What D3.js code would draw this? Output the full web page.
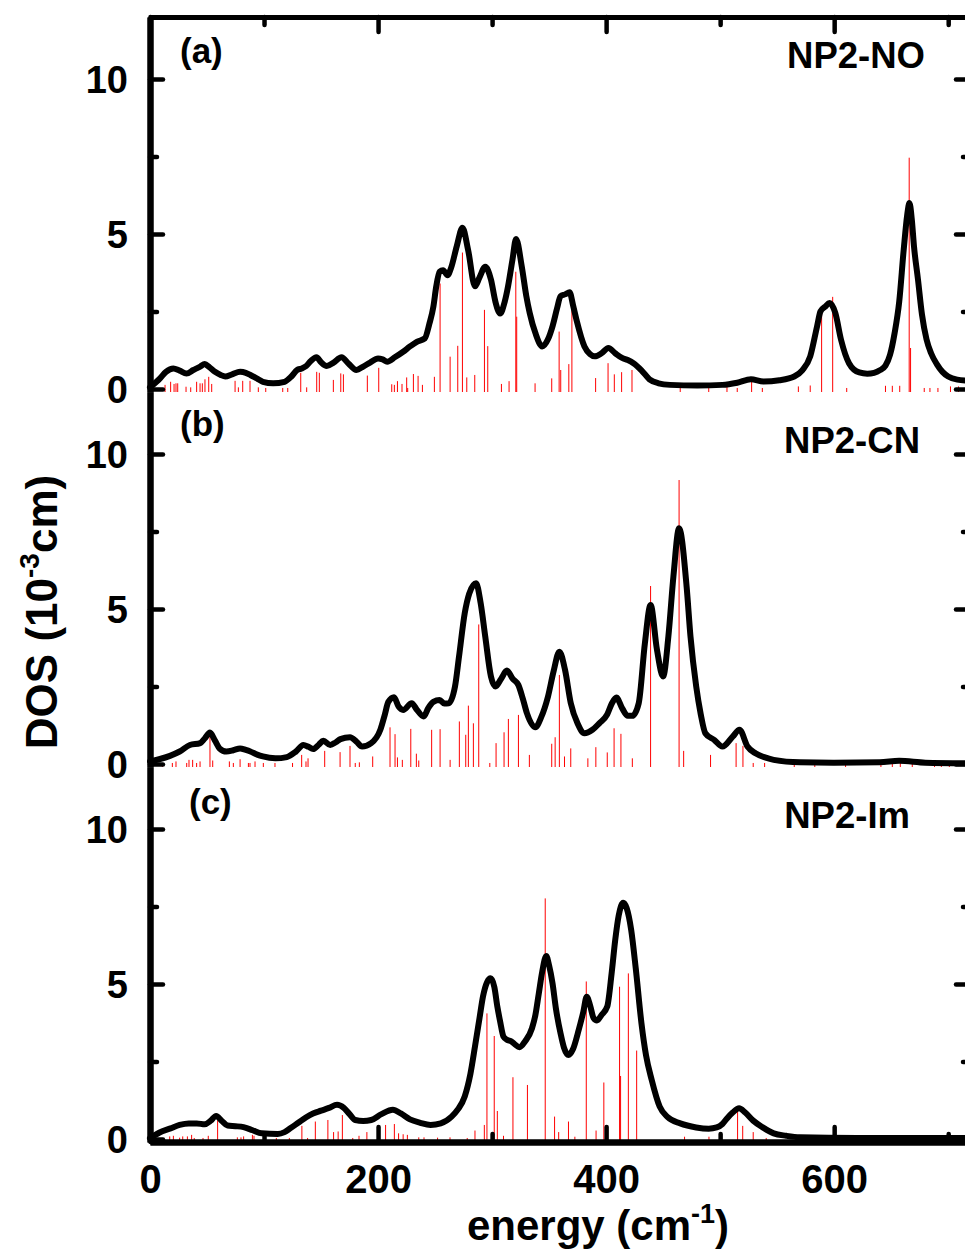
<!DOCTYPE html>
<html><head><meta charset="utf-8">
<script src="https://cdn.jsdelivr.net/npm/d3@7"></script>
<style>
body{margin:0;background:#fff}
text{font-family:"Liberation Sans",Arial,sans-serif;font-weight:bold;fill:#000}
</style>
</head><body>
<svg id="c" width="965" height="1253"></svg>
<script>
// ---------------- data ----------------
const panelLabels = ["(a)", "(b)", "(c)"];
const panelNames = ["NP2-NO", "NP2-CN", "NP2-Im"];
const xMajorTicks = [0, 200, 400, 600];
const xMinorTicks = [100, 300, 500, 700];
const yMajorTicks = [0, 5, 10];
const yMinorTicks = [2.5, 7.5];
const xTitle = "energy (cm";
const xTitleSup = "-1";
const yTitle = "DOS (10";
const yTitleSup = "-3";
const yTitleEnd = "cm)";

// broadened DOS curves [energy, DOS]
const curveA = [[0,0.05],[8.8,0.34],[14,0.55],[20.5,0.66],[26,0.59],[32,0.5],[38,0.61],[44,0.72],[48,0.8],[52,0.7],[57,0.55],[62,0.45],[66,0.4],[72,0.47],[79,0.55],[84,0.52],[88,0.45],[94,0.33],[99,0.23],[108,0.18],[118,0.23],[124,0.4],[129,0.61],[133,0.66],[137,0.74],[141,0.9],[146,1.02],[150,0.86],[155,0.74],[161,0.85],[168,1.02],[174,0.82],[181,0.61],[187,0.72],[193,0.85],[200,0.98],[204,0.95],[208,0.88],[215,1.03],[222,1.2],[228,1.37],[234,1.52],[241,1.63],[245,2.1],[248.5,2.65],[251,3.3],[254,3.78],[257,3.83],[261,3.67],[264,3.9],[269,4.6],[274,5.2],[279,4.48],[285,3.31],[289,3.6],[294,3.94],[299,3.53],[303,2.8],[307,2.43],[311,2.8],[314,3.31],[318,4.2],[321,4.84],[326,3.96],[330,3.0],[333,2.45],[338,1.8],[344,1.37],[349,1.6],[353,2.02],[357,2.6],[360,2.99],[364,3.05],[368,3.12],[371,2.7],[374,2.23],[381,1.37],[386,1.12],[390,1.05],[396,1.15],[402,1.32],[408,1.15],[414,1.0],[419,0.93],[424,0.83],[431,0.6],[438,0.31],[446,0.18],[456,0.13],[480,0.11],[502,0.13],[515,0.2],[527,0.31],[538,0.24],[552,0.28],[565,0.4],[572,0.6],[579,1.05],[585,2.02],[588,2.5],[592,2.65],[596,2.77],[601,2.45],[606,1.59],[613,0.83],[622,0.53],[629,0.49],[635,0.52],[640,0.6],[645,0.75],[649,1.1],[653,1.8],[657,2.8],[661,4.5],[664,5.6],[666,6.0],[668,5.5],[670,4.6],[673.5,3.53],[677,2.4],[681,1.6],[685,1.15],[690,0.8],[695,0.55],[700,0.4],[708,0.3],[720,0.26]];
const curveB = [[0,0.08],[8,0.15],[17.5,0.26],[26,0.4],[35,0.61],[44,0.67],[48,0.82],[52.6,1.01],[57,0.75],[61,0.5],[67,0.4],[73,0.44],[79,0.5],[84,0.45],[88,0.4],[94,0.3],[99,0.24],[110,0.18],[120,0.22],[128,0.4],[134.5,0.61],[139,0.55],[143,0.48],[148,0.62],[152,0.75],[158,0.61],[163,0.7],[167,0.8],[175.4,0.86],[181,0.72],[186,0.56],[194,0.67],[202,1.1],[206,1.6],[209,2.0],[214,2.15],[218,1.85],[222,1.74],[229.5,1.96],[234,1.75],[240,1.53],[244,1.8],[248.5,2.0],[254,2.06],[258,1.95],[262,1.96],[267.5,2.5],[271,3.46],[276,4.86],[280,5.5],[286,5.83],[290,5.18],[294,4.11],[299,2.82],[303,2.5],[308,2.75],[313,3.01],[318,2.75],[323,2.55],[327,2.1],[330.6,1.63],[338,1.18],[343,1.5],[349,2.17],[354,3.0],[359,3.62],[364,3.03],[369,1.96],[375,1.3],[381,0.99],[388,1.1],[394,1.31],[401,1.6],[405,1.95],[409,2.14],[414,1.8],[419,1.55],[423,1.55],[428.6,1.96],[434,3.89],[439,5.13],[444.6,3.68],[450,2.82],[454.6,4.11],[459,6.04],[464,7.6],[470.6,5.72],[474,4.11],[479,2.5],[483,1.6],[487,0.99],[495,0.77],[502,0.56],[511,0.88],[517,1.1],[524,0.56],[531,0.34],[540,0.2],[547,0.13],[570,0.05],[600,0.04],[640,0.05],[657,0.1],[680,0.04],[720,0.02]];
const curveC = [[0,0.02],[8,0.2],[18,0.34],[26,0.45],[34,0.5],[41,0.5],[48,0.47],[53,0.58],[58,0.74],[63,0.58],[68,0.43],[75,0.41],[82,0.38],[90,0.28],[98,0.18],[112,0.16],[118,0.22],[123,0.34],[130,0.52],[137,0.7],[143,0.82],[150,0.91],[157,1.0],[164,1.1],[170,1.0],[175,0.8],[180,0.61],[187,0.58],[194,0.61],[203,0.8],[213,0.94],[220,0.82],[228,0.63],[237,0.52],[246,0.45],[255,0.5],[264.5,0.72],[270,0.95],[276,1.37],[281,2.1],[285,2.98],[289,3.9],[292,4.59],[295.5,5.05],[298.7,5.18],[302,4.9],[304.6,4.27],[307,3.8],[310,3.3],[313,3.2],[317,3.14],[320,3.05],[324,2.96],[329,3.15],[335,3.57],[338,4.0],[341,4.7],[344,5.4],[347.5,5.9],[350,5.6],[353,5.02],[356,4.2],[360,3.41],[363,2.95],[367,2.71],[371,2.9],[376,3.52],[380,4.1],[383,4.59],[386,4.3],[389,3.9],[392,3.82],[396,4.0],[401,4.27],[405,5.4],[408,6.42],[411,7.2],[415,7.62],[418,7.45],[422,6.74],[426,5.5],[431,3.73],[435,2.7],[440,1.9],[447,1.04],[454,0.7],[465,0.5],[479,0.37],[490,0.33],[497,0.37],[502,0.48],[506,0.66],[511,0.85],[516.6,0.99],[522,0.85],[529,0.59],[537,0.38],[547,0.18],[558,0.1],[570,0.05],[620,0.03],[720,0.03]];

// stick spectra [energy, intensity]
const sticksA = [[13.2,0.13],[18.1,0.23],[21.1,0.16],[22.8,0.18],[24.3,0.18],[31.6,0.07],[35.7,0.05],[40.9,0.23],[43.9,0.18],[45.9,0.18],[48.2,0.31],[51.5,0.39],[54.1,0.16],[74.6,0.26],[77.5,0.05],[81.3,0.26],[87.7,0.26],[95,0.05],[101.5,0.03],[116.4,0.03],[120.8,0.03],[132.2,0.52],[137.4,0.05],[146.2,0.55],[148.5,0.52],[160.8,0.29],[167.3,0.5],[169.6,0.47],[190.6,0.43],[200.6,0.68],[212,0.15],[214.3,0.13],[217,0.25],[221,0.16],[225.1,0.37],[226,0.03],[231,0.48],[235.1,0.42],[238.9,0.13],[249.4,0.39],[254.4,3.4],[263.2,1.04],[269.9,1.39],[274,4.4],[277.8,0.37],[284.8,0.45],[293.3,2.55],[296.2,1.38],[308.2,0.16],[314.9,0.25],[320.8,3.78],[321.6,2.33],[337.7,0.18],[352.3,0.34],[358.8,1.85],[360.2,0.61],[367.3,0.8],[370,2.9],[390.8,0.35],[401.7,0.83],[407.2,0.47],[413.6,0.54],[422.7,0.61],[465,0.03],[490,0.08],[506,0.08],[515,0.03],[527.6,0.24],[537,0.03],[568.6,0.08],[579,0.11],[589,2.45],[598.7,2.97],[611,0.03],[645,0.1],[651,0.1],[657.5,0.1],[665.8,7.46],[667,1.32],[679,0.03],[684,0.03],[691,0.03],[702,0.08],[709,0.08]];
const sticksB = [[10.8,0.03],[19.6,0.03],[22.8,0.08],[32.2,0.03],[34.2,0.13],[37.4,0.13],[40.9,0.03],[43.9,0.08],[52.6,0.94],[55,0.11],[69.6,0.08],[73.1,0.03],[79,0.15],[86.3,0.03],[87.7,0.03],[92.1,0.08],[99.4,0.03],[109.6,0.03],[125,0.03],[133,0.29],[136.8,0.08],[138.6,0.18],[153.2,0.42],[166.7,0.38],[175.4,0.58],[180,0.03],[183.6,0.05],[195.3,0.24],[210.5,1.18],[214.9,0.96],[217,0.21],[221.3,0.13],[228.7,1.13],[233.6,0.33],[235.7,0.11],[247,1.1],[254.4,1.12],[263.2,0.13],[271.3,1.37],[276.9,0.94],[279.2,1.88],[283.6,1.31],[288.3,4.5],[298,0.03],[303.5,0.67],[310.5,1.02],[314.3,1.45],[323.1,1.58],[332.7,0.29],[352.3,0.65],[355.3,0.86],[359,2.87],[363.5,0.24],[369,0.5],[384,0.18],[391,0.54],[401,0.37],[407,1.15],[413,0.97],[423,0.18],[439,5.74],[464,9.16],[468,0.42],[491.6,0.29],[514,0.67],[520,0.58],[529,0.03],[539,0.03],[565,0.03],[583,0.03],[610,0.03],[641,0.03],[651,0.03],[658,0.05],[668.5,0.03],[688,0.03],[694,0.03],[701,0.03]];
const sticksC = [[17.3,0.08],[20.5,0.1],[26,0.04],[28.7,0.08],[32.8,0.08],[36.5,0.13],[38.8,0.03],[46.5,0.03],[51.1,0.1],[59.3,0.6],[76.6,0.05],[79.8,0.05],[82.1,0.08],[89.8,0.13],[91.2,0.1],[101.2,0.03],[110.8,0.03],[122.2,0.03],[133.2,0.42],[138.2,0.03],[145,0.56],[156,0.61],[161,0.22],[165,0.24],[168.7,0.77],[177.8,0.03],[183.3,0.1],[190.2,0.22],[206.6,0.45],[214.3,0.48],[218,0.18],[222,0.15],[225.7,0.13],[235.7,0.05],[240.3,0.05],[252.2,0.04],[263.1,0.05],[278.2,0.03],[285,0.27],[293.2,0.45],[295.5,4.05],[301.9,3.32],[304.6,0.9],[310,0.1],[318.3,1.99],[331,1.74],[346.6,7.76],[354.8,0.72],[358.4,0.22],[367,0.56],[372.6,0.07],[382.6,5.08],[391.2,0.27],[398,1.82],[411.8,4.91],[412.7,2.03],[419.5,5.34],[426.8,2.85],[468.8,0.07],[490.2,0.07],[515.3,0.96],[519.8,0.42],[529,0.22],[540.4,0.03],[582.8,0.03],[611,0.03],[649,0.03],[659,0.03],[665.8,0.03],[686.3,0.03],[700,0.08],[712.7,0.08]];

const curves = [curveA, curveB, curveC];
const sticks = [sticksA, sticksB, sticksC];

// ---------------- layout ----------------
const svg = d3.select("#c");
const left = 150, right = 971, top0 = 17, panelH = 375;
const x = d3.scaleLinear().domain([0, 720]).range([left, right]);
const yDomain = [-0.1, 12.0];
const labelPos = [[180, 46, 925, 51], [180, 44, 920, 61], [189, 47, 910, 61]];
const bottomY = top0 + 3 * panelH;

const plot = svg.append("g");

function styleAxis(g, w) {
  g.selectAll("path.domain").attr("stroke", "#000").attr("stroke-width", w);
  g.selectAll(".tick line").attr("stroke", "#000").attr("stroke-width", 4.5).attr("stroke-linecap", "round");
  g.selectAll("text").style("font-size", "38px").style("font-family", "'Liberation Sans',Arial,sans-serif").style("font-weight", "bold").attr("fill", "#000");
}

for (let i = 0; i < 3; i++) {
  const top = top0 + i * panelH;
  const y = d3.scaleLinear().domain(yDomain).range([top + panelH, top]);
  const g = plot.append("g");

  g.selectAll("line.stick").data(sticks[i]).join("line")
    .attr("class", "stick")
    .attr("x1", d => x(d[0])).attr("x2", d => x(d[0]))
    .attr("y1", y(yDomain[0])).attr("y2", d => y(d[1]))
    .attr("stroke", "#ff0000").attr("stroke-width", 1);

  g.append("path").datum(curves[i])
    .attr("d", d3.line().x(d => x(d[0])).y(d => y(d[1])).curve(d3.curveMonotoneX))
    .attr("fill", "none").attr("stroke", "#000").attr("stroke-width", 6)
    .attr("stroke-linejoin", "round").attr("stroke-linecap", "round");

  // left axis
  const la = svg.append("g").attr("transform", `translate(${left},0)`)
    .call(d3.axisLeft(y).tickValues(yMajorTicks).tickSizeInner(-13).tickSizeOuter(0).tickPadding(22).tickFormat(d3.format("d")));
  styleAxis(la, 6);
  la.selectAll("text").attr("dy", "0.36em");
  const lm = svg.append("g").attr("transform", `translate(${left},0)`)
    .call(d3.axisLeft(y).tickValues(yMinorTicks).tickSizeInner(-7).tickSizeOuter(0).tickFormat(""));
  styleAxis(lm, 6);

  // right axis
  const ra = svg.append("g").attr("transform", `translate(${right},0)`)
    .call(d3.axisRight(y).tickValues(yMajorTicks).tickSizeInner(-15).tickSizeOuter(0).tickFormat(""));
  styleAxis(ra, 6);
  const rm = svg.append("g").attr("transform", `translate(${right},0)`)
    .call(d3.axisRight(y).tickValues(yMinorTicks).tickSizeInner(-8).tickSizeOuter(0).tickFormat(""));
  styleAxis(rm, 6);

  // panel labels
  svg.append("text").attr("x", labelPos[i][0]).attr("y", top + labelPos[i][1])
    .style("font-size", "35px").text(panelLabels[i]);
  svg.append("text").attr("x", labelPos[i][2]).attr("y", top + labelPos[i][3])
    .attr("text-anchor", "end").style("font-size", "36.5px").text(panelNames[i]);
}

// top axis
const ta = svg.append("g").attr("transform", `translate(0,${top0})`)
  .call(d3.axisTop(x).tickValues(xMajorTicks).tickSizeInner(-15).tickSizeOuter(0).tickFormat(""));
styleAxis(ta, 5);
const tm = svg.append("g").attr("transform", `translate(0,${top0})`)
  .call(d3.axisTop(x).tickValues(xMinorTicks).tickSizeInner(-8).tickSizeOuter(0).tickFormat(""));
styleAxis(tm, 5);

// bottom axis
const ba = svg.append("g").attr("transform", `translate(0,${bottomY})`)
  .call(d3.axisBottom(x).tickValues(xMajorTicks).tickSizeInner(-15).tickSizeOuter(0).tickPadding(23).tickFormat(d3.format("d")));
styleAxis(ba, 6);
ba.selectAll("text").style("font-size", "40px");
const bm = svg.append("g").attr("transform", `translate(0,${bottomY})`)
  .call(d3.axisBottom(x).tickValues(xMinorTicks).tickSizeInner(-8).tickSizeOuter(0).tickFormat(""));
styleAxis(bm, 6);

// axis titles
const xt = svg.append("text").attr("x", 598).attr("y", 1240).attr("text-anchor", "middle").style("font-size", "42px");
xt.append("tspan").text(xTitle);
xt.append("tspan").attr("dy", -17).style("font-size", "27px").text(xTitleSup);
xt.append("tspan").attr("dy", 17).text(")");

const yt = svg.append("text").attr("transform", "translate(57,612) rotate(-90)").attr("text-anchor", "middle").style("font-size", "44px");
yt.append("tspan").text(yTitle);
yt.append("tspan").attr("dy", -18).style("font-size", "28px").text(yTitleSup);
yt.append("tspan").attr("dy", 18).text(yTitleEnd);
</script>
</body></html>
